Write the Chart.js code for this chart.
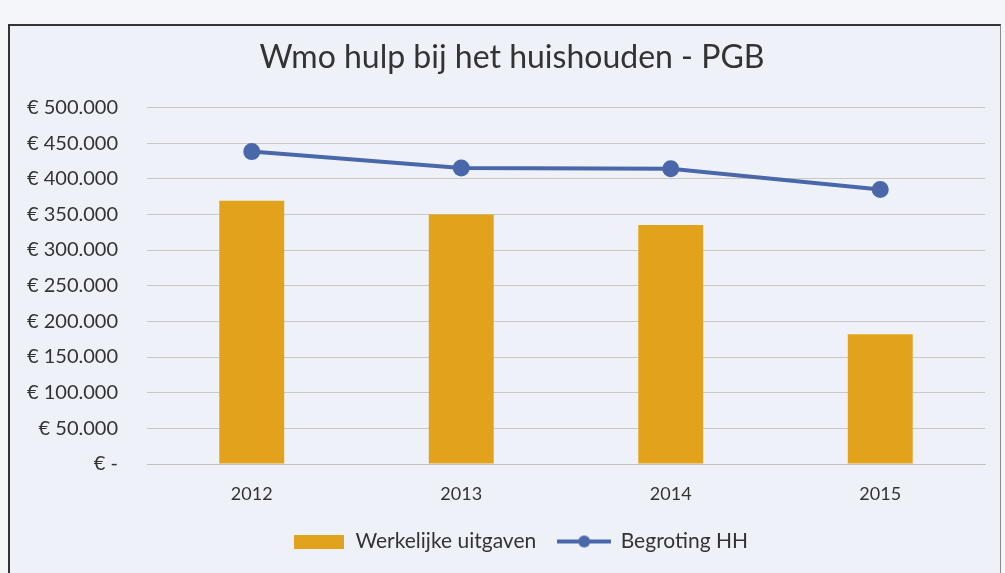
<!DOCTYPE html>
<html>
<head>
<meta charset="utf-8">
<script src="https://cdn.jsdelivr.net/npm/chart.js@4"></script>
<style>
  html, body { margin: 0; padding: 0; background: #f4f6fa; }
  #wrap { position: relative; width: 1005px; height: 573px; overflow: hidden; }
  #frame { position: absolute; left: 8px; top: 24px; width: 990px; height: 560px;
           border-left: 2px solid #333; border-top: 2px solid #333; border-right: 1px solid #888;
           background: #eef2f8; }
  canvas { position: absolute; left: 0; top: 0; }
</style>
</head>
<body>
<div id="wrap">
  <div id="frame"></div>
  <canvas id="c" width="1005" height="573"></canvas>
</div>
<script>
const categories = ['2012', '2013', '2014', '2015'];
const werkelijkeUitgaven = [369000, 350000, 335000, 182000];
const begrotingHH = [438000, 415000, 414000, 385000];
const yTicks = [0, 50000, 100000, 150000, 200000, 250000, 300000, 350000, 400000, 450000, 500000];

const FONT = 'Lato, "Open Sans", sans-serif';
const BAR_COLOR = '#e2a21b';
const LINE_COLOR = '#4a67a9';

function fmtEuro(v) {
  if (v === 0) return '€ -';
  return '€ ' + v.toString().replace(/\B(?=(\d{3})+(?!\d))/g, '.');
}

function makeBarIcon() {
  const c = document.createElement('canvas');
  c.width = 50; c.height = 14;
  const x = c.getContext('2d');
  x.fillStyle = BAR_COLOR; x.fillRect(0, 0, 50, 14);
  return c;
}
function makeLineIcon() {
  const c = document.createElement('canvas');
  c.width = 54; c.height = 14;
  const x = c.getContext('2d');
  x.strokeStyle = LINE_COLOR; x.lineWidth = 4;
  x.beginPath(); x.moveTo(0, 7); x.lineTo(54, 7); x.stroke();
  x.fillStyle = LINE_COLOR;
  x.beginPath(); x.arc(27, 7, 6, 0, Math.PI * 2); x.fill();
  return c;
}
const icons = [makeBarIcon(), makeLineIcon()];

const blockShift = {
  id: 'blockShift',
  afterLayout(chart) {
    if (chart.titleBlock) chart.titleBlock.left = 39;
    if (chart.legend) chart.legend.left = 56;
  }
};

new Chart(document.getElementById('c'), {
  data: {
    labels: categories,
    datasets: [
      {
        type: 'line',
        label: 'Begroting HH',
        data: begrotingHH,
        borderColor: LINE_COLOR,
        backgroundColor: LINE_COLOR,
        borderWidth: 4,
        pointRadius: 6.5,
        pointHoverRadius: 6.5,
        tension: 0,
        order: 1
      },
      {
        type: 'bar',
        label: 'Werkelijke uitgaven',
        data: werkelijkeUitgaven,
        backgroundColor: BAR_COLOR,
        barPercentage: 0.62,
        categoryPercentage: 0.5,
        order: 2
      }
    ]
  },
  plugins: [blockShift],
  options: {
    responsive: false,
    animation: false,
    layout: { padding: { left: 10, right: 20, top: 26, bottom: 11 } },
    plugins: {
      title: {
        display: true,
        text: 'Wmo hulp bij het huishouden - PGB',
        color: '#333',
        font: { family: FONT, size: 32, weight: 'normal' },
        padding: { top: 12, bottom: 31 }
      },
      legend: {
        position: 'bottom',
        reverse: true,
        labels: {
          color: '#333',
          font: { family: FONT, size: 21 },
          usePointStyle: true,
          pointStyleWidth: 52,
          boxHeight: 14,
          padding: 22,
          generateLabels(chart) {
            const items = Chart.defaults.plugins.legend.labels.generateLabels(chart);
            items.forEach(it => {
              it.pointStyle = it.datasetIndex === 1 ? icons[0] : icons[1];
            });
            return items;
          }
        }
      },
      tooltip: { enabled: false }
    },
    scales: {
      x: {
        afterFit(axis) { axis.height = 45; },
        grid: { display: false, drawTicks: false },
        border: { display: true, color: '#c4c4bc' },
        ticks: { color: '#333', font: { family: FONT, size: 18 }, padding: 19 }
      },
      y: {
        min: 0,
        max: 500000,
        afterBuildTicks(axis) { axis.ticks = yTicks.map(v => ({ value: v })); },
        afterFit(axis) { axis.width = 137; },
        grid: { color: '#c9c9c0', drawTicks: false },
        border: { display: false },
        ticks: {
          color: '#333',
          font: { family: FONT, size: 20 },
          padding: 29,
          callback: v => fmtEuro(v)
        }
      }
    }
  }
});
</script>
</body>
</html>
